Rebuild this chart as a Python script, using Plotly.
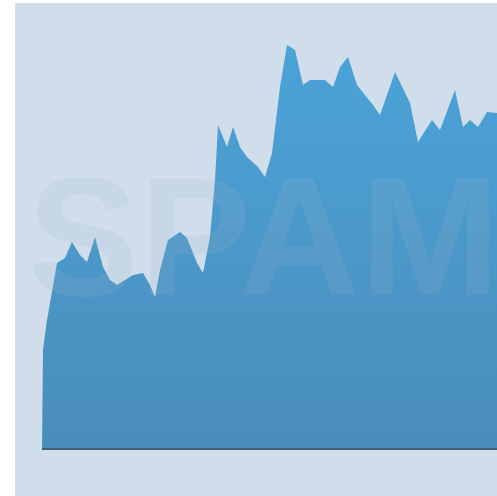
import plotly.graph_objects as go

# day index and value (arbitrary units)
days = [0, 1, 5, 10, 15, 23, 30, 38, 45, 53, 61, 68, 75, 83, 91, 101, 108, 113, 118, 126,
        138, 145, 155, 161, 168, 173, 176, 185, 191, 198, 205, 216, 223, 230, 238, 245,
        253, 261, 268, 283, 291, 298, 306, 315, 325, 331, 338, 353, 368, 376, 390, 398,
        413, 421, 428, 436, 445, 455]
values = [0, 99, 129, 159, 186, 191, 207, 194, 187, 212, 182, 169, 164, 169, 174, 176,
          164, 152, 179, 209, 217, 211, 186, 176, 212, 269, 324, 302, 322, 302, 292, 282,
          272, 296, 362, 404, 399, 364, 369, 369, 362, 382, 392, 364, 352, 344, 334, 377,
          346, 307, 329, 319, 359, 322, 329, 322, 337, 336]

fig = go.Figure()
fig.add_trace(go.Scatter(
    x=days, y=values, mode="lines", fill="tozeroy",
    line=dict(color="rgba(0,0,0,0)", width=0),
    fillgradient=dict(type="vertical",
                      colorscale=[[0, "#4a8dba"], [1, "#4ba3d8"]]),
    hoverinfo="skip", showlegend=False,
))
fig.add_trace(go.Scatter(
    x=[days[0], days[-1]], y=[0, 0], mode="lines",
    line=dict(color="#3f6178", width=2),
    hoverinfo="skip", showlegend=False,
))

fig.add_annotation(
    text="<b>SPAM</b>", xref="paper", yref="paper",
    x=0.02, y=0.525, xanchor="left", yanchor="middle", showarrow=False,
    font=dict(family="Liberation Sans", size=168, color="rgba(160,180,205,0.16)"),
)

fig.update_layout(
    width=497, height=496,
    margin=dict(l=15, r=0, t=3, b=0),
    paper_bgcolor="white", plot_bgcolor="#cfdeea",
    xaxis=dict(range=[-27, 455], visible=False, fixedrange=True),
    yaxis=dict(range=[-47, 446], visible=False, fixedrange=True),
)
fig.write_html("out.html")
